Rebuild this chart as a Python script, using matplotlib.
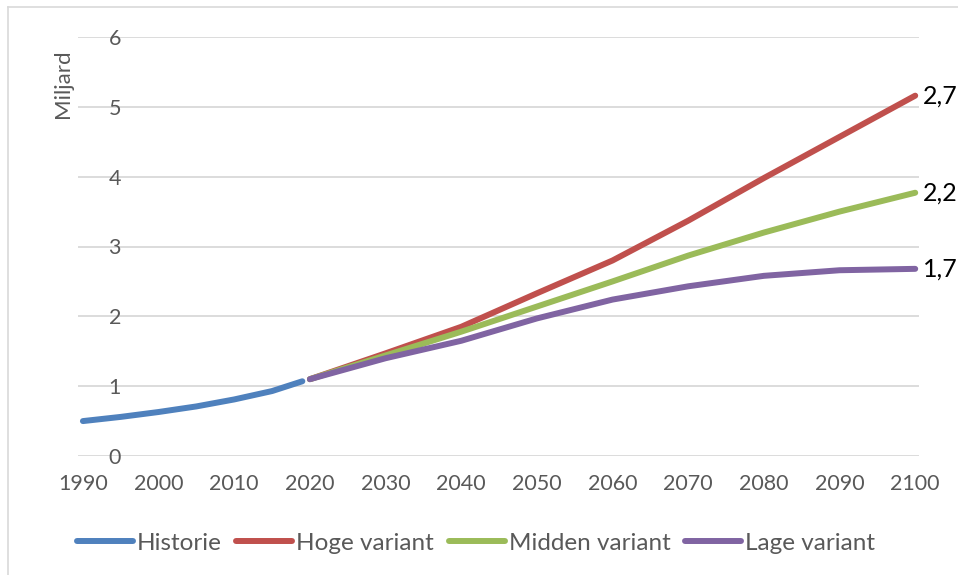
import matplotlib.pyplot as plt
from matplotlib.lines import Line2D

# data
hist_years = [1990, 1995, 2000, 2005, 2010, 2015, 2019]
hist_vals = [0.50, 0.56, 0.63, 0.71, 0.81, 0.93, 1.07]

proj_years = [2020, 2030, 2040, 2050, 2060, 2070, 2080, 2090, 2100]
hoog = [1.10, 1.47, 1.85, 2.33, 2.80, 3.37, 3.98, 4.57, 5.16]
midden = [1.10, 1.44, 1.78, 2.14, 2.50, 2.87, 3.20, 3.50, 3.77]
laag = [1.10, 1.40, 1.65, 1.97, 2.24, 2.43, 2.58, 2.66, 2.68]

end_labels = ['2,7', '2,2', '1,7']
xticks = list(range(1990, 2101, 10))
yticks = [0, 1, 2, 3, 4, 5, 6]

grey = '#595959'
plt.rcParams['font.family'] = ['Lato', 'DejaVu Sans']

fig = plt.figure(figsize=(9.58, 5.75), dpi=100)
ax = fig.add_axes([78/958, 1-456/575, (919-78)/958, (456-37)/575])

lw = 4.3
ax.plot(hist_years, hist_vals, color='#4F81BD', lw=lw, solid_capstyle='round', label='Historie')
ax.plot(proj_years, hoog, color='#C0504D', lw=lw, solid_capstyle='round', label='Hoge variant')
ax.plot(proj_years, midden, color='#9BBB59', lw=lw, solid_capstyle='round', label='Midden variant')
ax.plot(proj_years, laag, color='#8064A2', lw=lw, solid_capstyle='round', label='Lage variant')

for vals, lab in zip([hoog, midden, laag], end_labels):
    ax.annotate(lab, (proj_years[-1], vals[-1]), xytext=(5.5, 0), textcoords='offset points',
                ha='left', va='center', fontsize=18, color='black', annotation_clip=False)

ax.set_xlim(1989.35, 2100.5)
ax.set_ylim(0, 6)
ax.set_xticks(xticks)
ax.set_yticks(yticks)
for s in ax.spines.values():
    s.set_visible(False)
ax.grid(axis='y', color='#d9d9d9', lw=1.3)
ax.set_axisbelow(True)
ax.tick_params(axis='both', length=0, labelsize=15.5, labelcolor=grey)
ax.tick_params(axis='y', pad=-31)
ax.tick_params(axis='x', pad=13)

fig.text(63/958, 1-84/575, 'Miljard', rotation=90, ha='center', va='center',
         fontsize=16, color=grey)

leg = fig.legend(loc='center', bbox_to_anchor=(476/958, 1-543/575), ncol=4, frameon=False,
                 fontsize=17.5, handlelength=2.3, handletextpad=0.17, columnspacing=0.6,
                 labelcolor=grey)

# chart border (cut off at right and bottom)
fig.add_artist(Line2D([8/958, 1], [1-7/575, 1-7/575], color='#d9d9d9', lw=1.2,
                      transform=fig.transFigure))
fig.add_artist(Line2D([8/958, 8/958], [0, 1-7/575], color='#d9d9d9', lw=1.2,
                      transform=fig.transFigure))

fig.savefig('out.png', dpi=100)
